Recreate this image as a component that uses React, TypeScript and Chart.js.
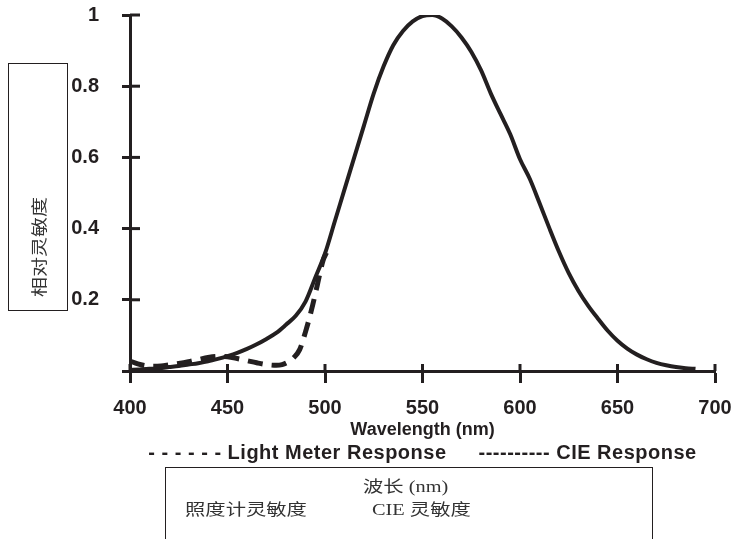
import React, { useEffect, useRef } from 'react';
import { Chart, registerables } from 'chart.js';

Chart.register(...registerables);

// ---- data ----
const cieWavelengths = [
  400, 405, 410, 415, 420, 425, 430, 435, 440, 445, 450, 455, 460, 465, 470,
  475, 480, 485, 490, 495, 500, 505, 510, 515, 520, 525, 530, 535, 540, 545,
  550, 555, 560, 565, 570, 575, 580, 585, 590, 595, 600, 605, 610, 615, 620,
  625, 630, 635, 640, 645, 650, 655, 660, 665, 670, 675, 680, 685, 690,
];
const cieValues = [
  0.003, 0.004, 0.006, 0.008, 0.011, 0.014, 0.018, 0.022, 0.027, 0.034, 0.042, 0.051, 0.062, 0.075, 0.09,
  0.107, 0.13, 0.155, 0.195, 0.262, 0.33, 0.42, 0.51, 0.6, 0.69, 0.78, 0.855, 0.915, 0.955, 0.982,
  0.997, 1.0, 0.99, 0.968, 0.937, 0.897, 0.845, 0.78, 0.722, 0.665, 0.595, 0.54, 0.472, 0.402, 0.335,
  0.275, 0.225, 0.183, 0.147, 0.113, 0.085, 0.063, 0.046, 0.033, 0.023, 0.016, 0.011, 0.008, 0.006,
];
const meterWavelengths = [
  400, 404, 408, 412, 416, 420, 425, 430, 435, 440, 445, 450, 455, 460, 465,
  470, 475, 478, 481, 484, 487, 490, 493, 496, 499, 501,
];
const meterValues = [
  0.028, 0.02, 0.015, 0.013, 0.014, 0.017, 0.021, 0.026, 0.032, 0.038, 0.041, 0.04, 0.035, 0.029, 0.023,
  0.018, 0.016, 0.018, 0.025, 0.038, 0.06, 0.11, 0.17, 0.24, 0.31, 0.335,
];

const seriesLabels = ['Light Meter Response', 'CIE Response'];
const legendPrefixes = ['- - - - - - ', '---------- '];
const xAxisTitle = 'Wavelength (nm)';
const yAxisTitle = '相对灵敏度';
const noteLine1 = '波长 (nm)';
const noteLine2a = '照度计灵敏度';
const noteLine2b = 'CIE 灵敏度';

const INK = '#231f20';
const SANS = '"Liberation Sans", Arial, sans-serif';

const innerTicksPlugin = {
  id: 'innerTicks',
  afterDraw(chart: any) {
    const { ctx, chartArea, scales } = chart;
    const x = scales.x;
    const y = scales.y;
    ctx.save();
    ctx.strokeStyle = INK;
    ctx.lineWidth = 3;
    x.ticks.forEach((t: any) => {
      const px = x.getPixelForValue(t.value);
      ctx.beginPath();
      ctx.moveTo(px, chartArea.bottom);
      ctx.lineTo(px, chartArea.bottom - 7);
      ctx.stroke();
    });
    y.ticks.forEach((t: any) => {
      const py = y.getPixelForValue(t.value);
      ctx.beginPath();
      ctx.moveTo(chartArea.left, py);
      ctx.lineTo(chartArea.left + 10, py);
      ctx.stroke();
    });
    ctx.restore();
  },
};

const textLegendPlugin = {
  id: 'textLegend',
  afterDraw(chart: any) {
    const { ctx, chartArea, scales } = chart;
    ctx.save();
    ctx.letterSpacing = '0.5px';
    ctx.font = `bold 20px ${SANS}`;
    ctx.fillStyle = INK;
    ctx.textBaseline = 'middle';
    ctx.textAlign = 'left';
    const items = chart.data.datasets.map((d: any, i: number) => legendPrefixes[i] + d.label);
    const widths = items.map((s: string) => ctx.measureText(s).width);
    const gap = 32;
    const total = widths.reduce((a: number, b: number) => a + b, 0) + gap * (items.length - 1);
    let xPos = (chartArea.left + chartArea.right) / 2 - total / 2;
    const yPos = scales.x.bottom + 10;
    items.forEach((s: string, i: number) => {
      ctx.fillText(s, xPos, yPos);
      xPos += widths[i] + gap;
    });
    ctx.restore();
  },
};

export default function App() {
  const canvasRef = useRef<HTMLCanvasElement | null>(null);

  useEffect(() => {
    if (!canvasRef.current) return;
    const chart = new Chart(canvasRef.current, {
      type: 'line',
      data: {
        datasets: [
          {
            label: seriesLabels[0],
            data: meterWavelengths.map((w, i) => ({ x: w, y: meterValues[i] })),
            borderColor: INK,
            borderWidth: 5,
            borderDash: [15, 9],
            pointRadius: 0,
            cubicInterpolationMode: 'monotone',
            fill: false,
          },
          {
            label: seriesLabels[1],
            data: cieWavelengths.map((w, i) => ({ x: w, y: cieValues[i] })),
            borderColor: INK,
            borderWidth: 4,
            pointRadius: 0,
            cubicInterpolationMode: 'monotone',
            fill: false,
          },
        ],
      },
      options: {
        animation: false,
        responsive: false,
        devicePixelRatio: window.devicePixelRatio || 1,
        layout: { padding: { left: 0, top: 15, right: 22, bottom: 96 } },
        plugins: {
          legend: { display: false },
          tooltip: { enabled: false },
        },
        scales: {
          x: {
            type: 'linear',
            min: 400,
            max: 700,
            ticks: {
              stepSize: 50,
              color: INK,
              padding: 13,
              maxRotation: 0,
              font: { family: SANS, size: 20, weight: 'bold' },
            },
            grid: { drawOnChartArea: false, tickLength: 12, tickWidth: 3, tickColor: INK },
            border: { width: 3, color: INK },
            title: {
              display: true,
              text: xAxisTitle,
              color: INK,
              font: { family: SANS, size: 18, weight: 'bold' },
              padding: { top: 0, bottom: 2 },
            },
            afterFit: (s: any) => {
              s.height = 72;
              s.paddingLeft = 0;
              s.paddingRight = 0;
            },
          },
          y: {
            type: 'linear',
            min: 0,
            max: 1,
            ticks: {
              stepSize: 0.2,
              color: INK,
              padding: 23,
              font: { family: SANS, size: 20, weight: 'bold' },
              callback: (v: any) => (Math.abs(v) < 1e-9 ? '' : String(+Number(v).toFixed(1))),
            },
            grid: { drawOnChartArea: false, tickLength: 8, tickWidth: 3, tickColor: INK },
            border: { width: 3, color: INK },
            afterFit: (s: any) => {
              s.width = 130;
              s.paddingTop = 0;
              s.paddingBottom = 0;
            },
          },
        },
      } as any,
      plugins: [innerTicksPlugin, textLegendPlugin],
    });
    return () => chart.destroy();
  }, []);

  const cjk = '"Liberation Serif", "Noto Sans CJK SC", serif';

  return (
    <div
      style={{
        position: 'absolute',
        left: 0,
        top: 0,
        width: 737,
        height: 539,
        overflow: 'hidden',
        background: '#fff',
      }}
    >
      <canvas
        ref={canvasRef}
        width={737}
        height={539}
        style={{ position: 'absolute', left: 0, top: 0, width: 737, height: 539 }}
      />
      <div
        style={{
          position: 'absolute',
          left: 8,
          top: 63,
          width: 60,
          height: 248,
          boxSizing: 'border-box',
          border: `1.5px solid ${INK}`,
        }}
      />
      <div
        style={{
          position: 'absolute',
          left: 40,
          top: 247,
          transform: 'translate(-50%, -50%) rotate(-90deg) scaleX(1.25)',
          fontFamily: cjk,
          fontSize: 16,
          color: '#333',
          whiteSpace: 'nowrap',
          lineHeight: 1,
        }}
      >
        {yAxisTitle}
      </div>
      <div
        style={{
          position: 'absolute',
          left: 165,
          top: 467,
          width: 488,
          height: 90,
          boxSizing: 'border-box',
          border: `1.5px solid ${INK}`,
        }}
      />
      {[
        { text: noteLine1, left: 363, top: 487 },
        { text: noteLine2a, left: 185, top: 510 },
        { text: noteLine2b, left: 372, top: 510 },
      ].map((t, i) => (
        <div
          key={i}
          style={{
            position: 'absolute',
            left: t.left,
            top: t.top,
            transform: 'translateY(-50%) scaleX(1.27)',
            transformOrigin: 'left center',
            fontFamily: cjk,
            fontSize: 16,
            color: '#333',
            whiteSpace: 'pre',
            lineHeight: 1,
          }}
        >
          {t.text}
        </div>
      ))}
    </div>
  );
}
